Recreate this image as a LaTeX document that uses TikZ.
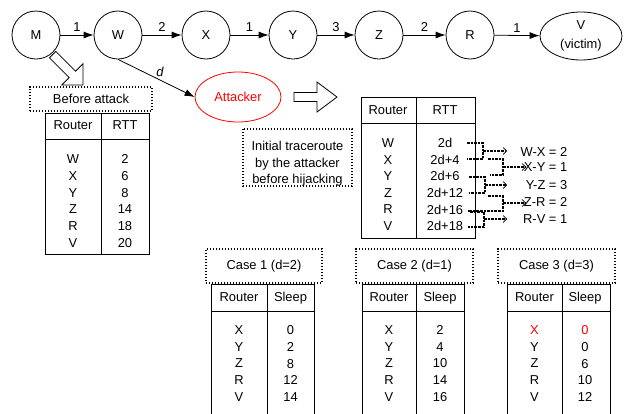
\documentclass[tikz,border=0pt]{standalone}
\usepackage{fontspec}
\setmainfont{Liberation Sans}
\usetikzlibrary{arrows.meta,shapes.geometric}

\tikzset{
  every node/.style={font=\fontsize{12.9}{16.8}\selectfont},
  router/.style={draw, circle, minimum size=48pt, inner sep=0pt},
  hop/.style={-{Latex[length=10pt,width=7pt]}},
  hoplbl/.style={above=2pt, inner sep=1pt},
  dotbox/.style={draw, line width=1.1pt, dash pattern=on 1.1pt off 1.9pt},
  brk/.style={line width=1.4pt, dash pattern=on 2.6pt off 1pt},
  brkarrow/.style={brk, -{Straight Barb[length=3.5pt,width=7pt,line width=0.7pt]}},
  hdr/.style={inner sep=0pt, text depth=0pt},
  col/.style={align=center, inner sep=0pt},
}

% hollow block arrow: tip, angle, head length, total length
\newcommand{\hollowarrow}[4]{%
  \draw[shift={#1}, rotate=#2, line width=0.8pt] (0,0) -- (-#3,15) -- (-#3,4.5) -- (-#4,4.5)
    -- (-#4,-4.5) -- (-#3,-4.5) -- (-#3,-15) -- cycle;}

\begin{document}
\begin{tikzpicture}[x=1pt, y=-1pt, line width=0.8pt]
\useasboundingbox (0,0) rectangle (624,413);

% the path M -> V
\node[router] (M) at (36,35) {M};
\node[router] (W) at (118,35) {W};
\node[router] (X) at (206,35) {X};
\node[router] (Y) at (293,35) {Y};
\node[router] (Z) at (379,35) {Z};
\node[router] (R) at (470,35) {R};
\node[draw, ellipse, minimum width=82pt, minimum height=48pt, inner sep=0pt, align=center] (V) at (581,36) {V\\[1.5pt](victim)};

\draw[hop] (M) -- node[hoplbl] (mw) {1} (W);
\draw[hop] (W) -- node[hoplbl] (wx) {2} (X);
\draw[hop] (X) -- node[hoplbl] (xy) {1} (Y);
\draw[hop] (Y) -- node[hoplbl] (yz) {3} (Z);
\draw[hop] (Z) -- node[hoplbl] (zr) {2} (R);
\draw[hop] (R) -- node[hoplbl] (rv) {1} (V);

% attacker
\node[draw=red, ellipse, minimum width=86pt, minimum height=50pt, text=red] (att) at (238,97) {Attacker};
\draw[hop] (W.south) -- node[pos=0.55, above, inner sep=3pt] (dlbl) {\textit{d}} (att.west);

\hollowarrow{(83,85)}{-45}{15}{43}
\hollowarrow{(337,97)}{0}{20}{43}

% before attack
\node[dotbox, minimum width=122pt, minimum height=24pt] (before) at (91,99) {Before attack};
\draw (45,113) rectangle (149,254);
\draw (101,113) -- (101,254);
\draw (45,139) -- (149,139);
\node[hdr] (t1r) at (73,125) {Router};
\node[hdr] (t1v) at (125,125) {RTT};
\node[col] (t1rc) at (73,201) {W\\X\\Y\\Z\\R\\V};
\node[col] (t1vc) at (125,201) {2\\6\\8\\14\\18\\20};

% initial traceroute
\draw[dotbox] (243,129) rectangle (352,186);
\node[col, font=\fontsize{12.9}{16.5}\selectfont] (init) at (297.5,164) {Initial traceroute\\by the attacker\\before hijacking};
\draw (361,97) rectangle (475,238);
\draw (416,97) -- (416,238);
\draw (361,123) -- (475,123);
\node[hdr] (t2r) at (388,110) {Router};
\node[hdr] (t2v) at (445,110) {RTT};
\node[col, font=\fontsize{12.9}{16.6}\selectfont] (t2rc) at (388,184.5) {W\\X\\Y\\Z\\R\\V};
\node[col, font=\fontsize{12.9}{16.6}\selectfont] (t2vc) at (445,184.5) {2d\\2d+4\\2d+6\\2d+12\\2d+16\\2d+18};

% hop differences
\draw[brk] (467,143) -| (483,159) -- (467,159);
\draw[brkarrow] (483,151) -- (507,151);
\draw[brk] (488,159) -| (503,175) -- (490,175);
\draw[brkarrow] (503,167) -- (526,167);
\draw[brk] (469,177) -| (485,193) -- (469,193);
\draw[brkarrow] (485,185) -- (507,185);
\draw[brk] (488,196) -| (503,211) -- (468,211);
\draw[brkarrow] (503,203) -- (526,203);
\draw[brk] (470,212) -| (484,227) -- (468,227);
\draw[brkarrow] (484,219) -- (507,219);
\node[anchor=east] (dwx) at (571,152) {W-X = 2};
\node[anchor=east] (dxy) at (571,167) {X-Y = 1};
\node[anchor=east] (dyz) at (571,185) {Y-Z = 3};
\node[anchor=east] (dzr) at (571,202) {Z-R = 2};
\node[anchor=east] (drv) at (571,219) {R-V = 1};

% case 1
\node[dotbox, minimum width=116pt, minimum height=34pt] (case1) at (264,266) {Case 1 (d=2)};
\draw (211,284) rectangle (314,420);
\draw (267,284) -- (267,420);
\draw (211,311) -- (314,311);
\node[hdr] (c1r) at (239,297) {Router};
\node[hdr] (c1s) at (290.5,297) {Sleep};
\node[col] (c1rc) at (239,363.5) {X\\Y\\Z\\R\\V};
\node[col] (c1sc) at (290.5,363.5) {0\\2\\8\\12\\14};

% case 2
\node[dotbox, minimum width=117pt, minimum height=34pt] (case2) at (414.5,266) {Case 2 (d=1)};
\draw (362,284) rectangle (464,420);
\draw (416,284) -- (416,420);
\draw (362,311) -- (464,311);
\node[hdr] (c2r) at (389,297) {Router};
\node[hdr] (c2s) at (440,297) {Sleep};
\node[col] (c2rc) at (389,363.5) {X\\Y\\Z\\R\\V};
\node[col] (c2sc) at (440,363.5) {2\\4\\10\\14\\16};

% case 3
\node[dotbox, minimum width=117pt, minimum height=34pt] (case3) at (556.5,266) {Case 3 (d=3)};
\draw (507,284) rectangle (610,420);
\draw (562,284) -- (562,420);
\draw (507,311) -- (610,311);
\node[hdr] (c3r) at (534.5,297) {Router};
\node[hdr] (c3s) at (585,297) {Sleep};
\node[col] (c3rc) at (534.5,363.5) {\textcolor{red}{X}\\Y\\Z\\R\\V};
\node[col] (c3sc) at (585,363.5) {\textcolor{red}{0}\\0\\6\\10\\12};

\end{tikzpicture}
\end{document}
